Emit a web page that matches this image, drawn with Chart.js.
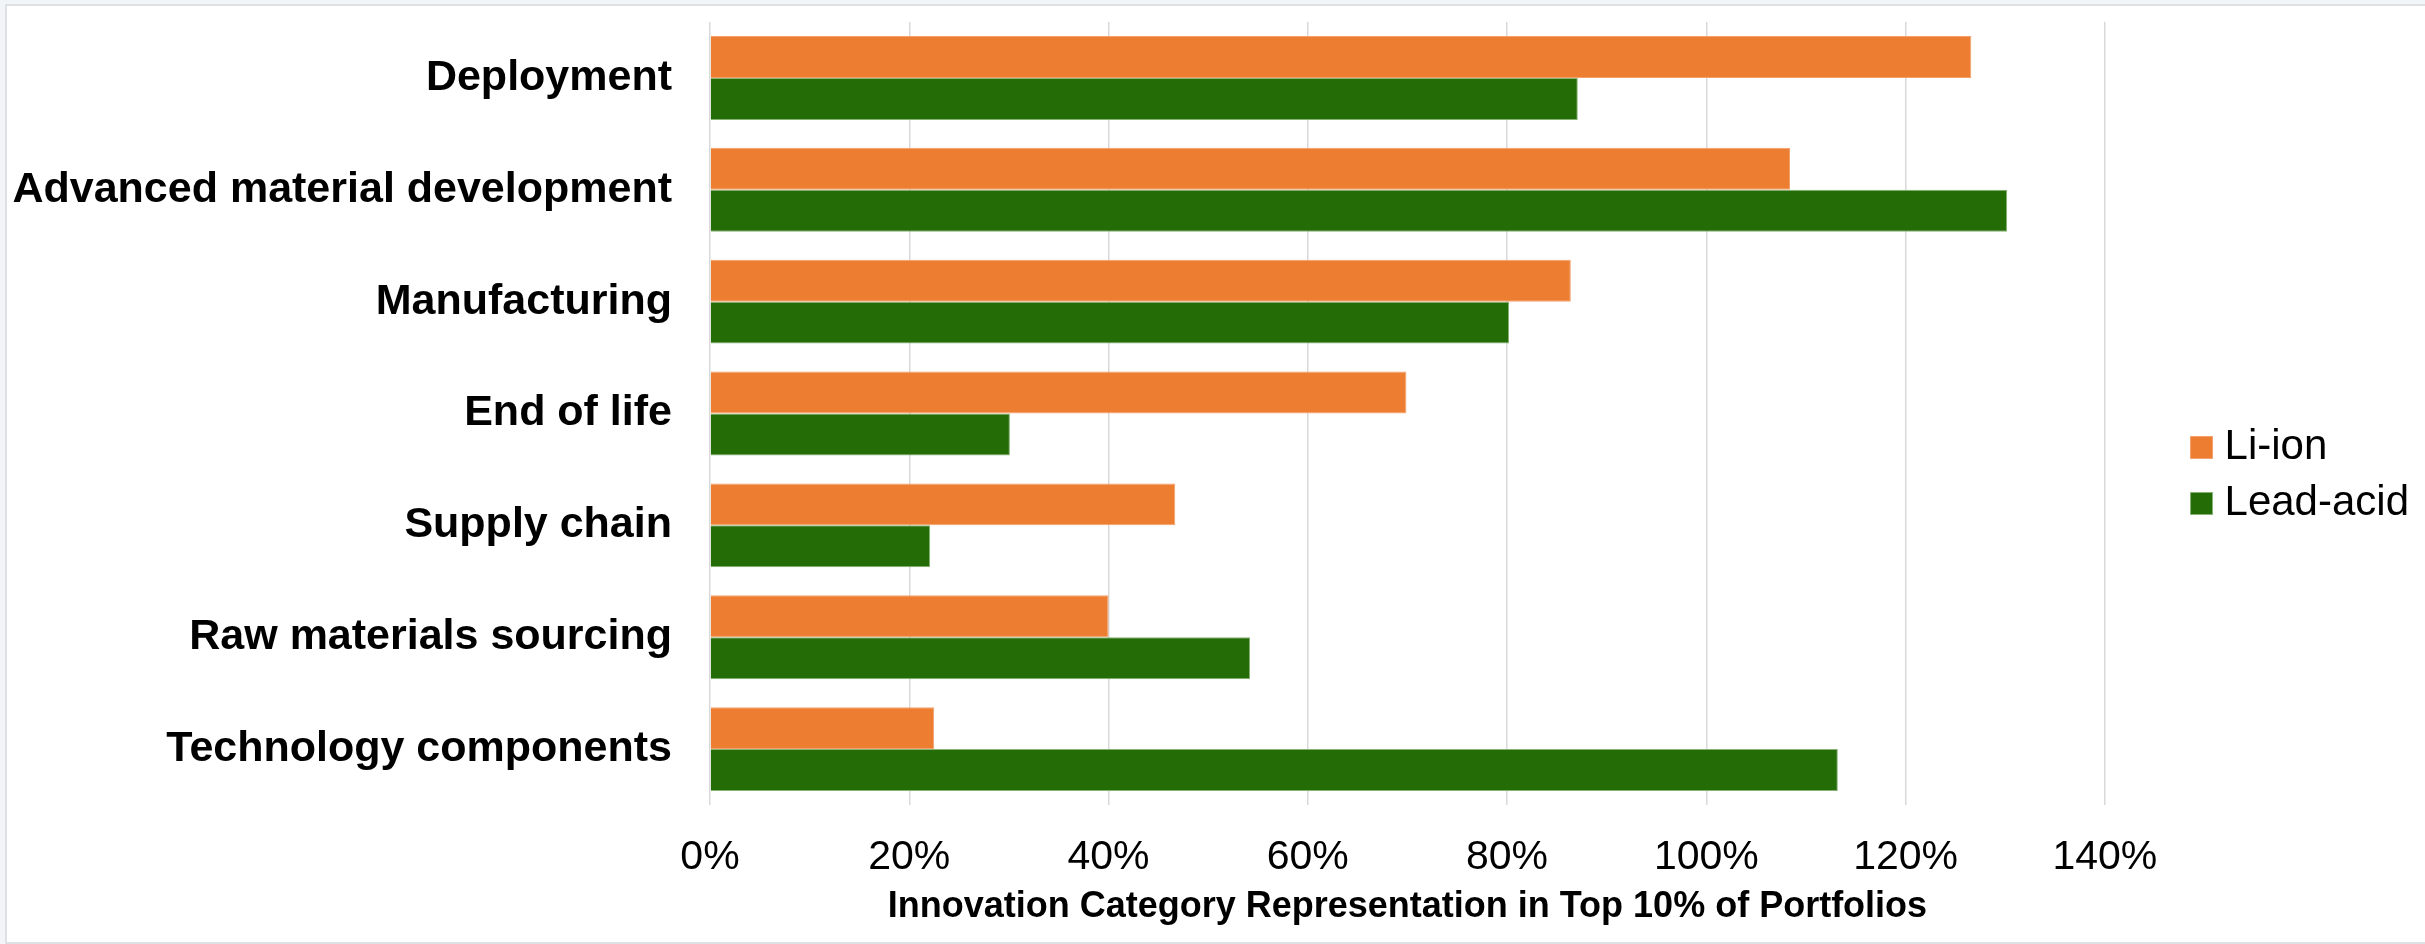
<!DOCTYPE html>
<html>
<head>
<meta charset="utf-8">
<script src="https://cdn.jsdelivr.net/npm/chart.js@4.4.1/dist/chart.umd.min.js"></script>
<style>
  html, body { margin: 0; padding: 0; background: #f2f5f8; overflow: hidden; }
  #frame {
    position: absolute; left: 5px; top: 4px; width: 2430px; height: 940px;
    box-sizing: border-box; border: 2px solid #dde1e4; border-right: none; background: #ffffff;
  }
  #chart { position: absolute; left: 0; top: 0; }
</style>
</head>
<body>
<div id="frame"></div>
<canvas id="chart" width="2425" height="944"></canvas>
<script>
// Innovation categories, top to bottom
const categories = [
  'Deployment',
  'Advanced material development',
  'Manufacturing',
  'End of life',
  'Supply chain',
  'Raw materials sourcing',
  'Technology components'
];

// Share of each category in the top 10% of portfolios (percent)
const liIon    = [126.6, 108.4, 86.4, 69.9, 46.7, 40.0, 22.5];
const leadAcid = [87.1, 130.2, 80.2, 30.1, 22.1, 54.2, 113.2];

// Horizontal axis ticks (percent)
const xTickValues = [0, 20, 40, 60, 80, 100, 120, 140];

const FONT = '"Liberation Sans", Arial, Helvetica, sans-serif';

new Chart(document.getElementById('chart'), {
  type: 'bar',
  data: {
    labels: categories,
    datasets: [
      {
        label: 'Li-ion',
        data: liIon,
        backgroundColor: '#ed7d31',
        borderColor: '#f3a06c',
        borderWidth: 1
      },
      {
        label: 'Lead-acid',
        data: leadAcid,
        backgroundColor: '#236c06',
        borderColor: '#86b276',
        borderWidth: 1
      }
    ]
  },
  options: {
    indexAxis: 'y',
    responsive: false,
    animation: false,
    devicePixelRatio: 1,
    categoryPercentage: 0.75,
    barPercentage: 1.0,
    layout: { padding: { top: 22, left: 0, right: 6, bottom: 15 } },
    plugins: {
      tooltip: { enabled: false },
      legend: {
        position: 'right',
        labels: {
          usePointStyle: true,
          pointStyle: 'rect',
          boxWidth: 4,
          boxHeight: 22,
          padding: 14,
          color: '#000000',
          font: { family: FONT, size: 42 }
        }
      }
    },
    scales: {
      x: {
        type: 'linear',
        min: 0,
        max: 140,
        afterBuildTicks: (scale) => {
          scale.ticks = xTickValues.map(v => ({ value: v }));
        },
        afterFit: (scale) => { scale.height = 124; },
        grid: { color: '#d9d9d9', lineWidth: 1.5, drawTicks: false },
        border: { display: false },
        ticks: {
          padding: 28,
          color: '#000000',
          font: { family: FONT, size: 41 },
          callback: (v) => v + '%'
        },
        title: {
          display: true,
          text: 'Innovation Category Representation in Top 10% of Portfolios',
          color: '#000000',
          font: { family: FONT, size: 36, weight: 'bold' },
          padding: { top: 0, bottom: 0 }
        }
      },
      y: {
        type: 'category',
        afterFit: (scale) => {
          scale.width = 710;
          // keep the label padding from pushing the plot edges inward
          scale.paddingTop = 0;
          scale.paddingBottom = 0;
        },
        grid: { display: false, drawTicks: false },
        border: { display: false },
        ticks: {
          padding: 38,
          color: '#000000',
          font: { family: FONT, size: 43, weight: 'bold' }
        }
      },
      // empty band between the plot and the legend
      gap: {
        type: 'linear',
        position: 'right',
        grid: { display: false, drawTicks: false },
        border: { display: false },
        ticks: { display: false },
        afterFit: (scale) => {
          scale.width = 80.7;
          scale.paddingTop = 0;
          scale.paddingBottom = 0;
        }
      }
    }
  }
});
</script>
</body>
</html>
